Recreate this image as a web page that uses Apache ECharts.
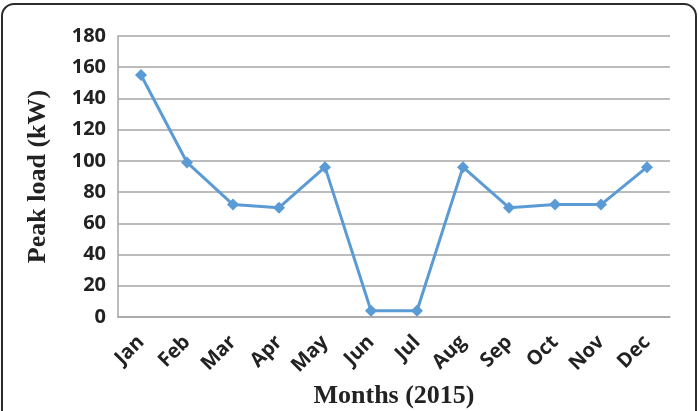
<!DOCTYPE html>
<html>
<head>
<meta charset="utf-8">
<script src="https://cdn.jsdelivr.net/npm/echarts@6/dist/echarts.min.js"></script>
<style>
  html, body { margin: 0; padding: 0; background: #fff; }
  #chart { width: 698px; height: 411px; }
</style>
</head>
<body>
<div id="chart"></div>
<script>
// peak load per month, 2015 (kW)
const months = ['Jan', 'Feb', 'Mar', 'Apr', 'May', 'Jun', 'Jul', 'Aug', 'Sep', 'Oct', 'Nov', 'Dec']
const peakLoad = [155, 99, 72, 70, 96, 4, 4, 96, 70, 72, 72, 96]

const chart = echarts.init(document.getElementById('chart'))

chart.setOption({
  animation: false,
  grid: { left: 118, right: 28, top: 36, bottom: 94, outerBoundsMode: 'none', containLabel: false },
  graphic: [
    {
      type: 'rect',
      shape: { x: 2, y: 4, width: 694, height: 450, r: 12 },
      style: { fill: 'none', stroke: '#2b2b2b', lineWidth: 2 },
      silent: true
    }
  ],
  xAxis: {
    type: 'category',
    data: months,
    name: 'Months (2015)',
    nameLocation: 'middle',
    nameGap: 66,
    nameTextStyle: {
      fontFamily: 'Liberation Serif',
      fontWeight: 'bold',
      fontSize: 26,
      color: '#222'
    },
    axisLine: { lineStyle: { color: '#a6a6a6', width: 1.5 } },
    axisTick: { show: false },
    axisLabel: {
      rotate: 45,
      margin: 22,
      fontFamily: 'Open Sans',
      fontWeight: 'bold',
      fontSize: 20,
      color: '#222'
    }
  },
  yAxis: {
    type: 'value',
    min: 0,
    max: 180,
    interval: 20,
    name: 'Peak load (kW)',
    nameLocation: 'middle',
    nameGap: 67,
    nameTextStyle: {
      fontFamily: 'Liberation Serif',
      fontWeight: 'bold',
      fontSize: 26,
      color: '#222'
    },
    axisLine: { show: true, lineStyle: { color: '#a6a6a6', width: 1.5 } },
    axisTick: { show: false },
    axisLabel: {
      margin: 12,
      fontFamily: 'Open Sans',
      fontWeight: 'bold',
      fontSize: 20,
      color: '#222'
    },
    splitLine: { lineStyle: { color: '#a6a6a6', width: 1.5 } }
  },
  series: [
    {
      type: 'line',
      data: peakLoad,
      symbol: 'diamond',
      symbolSize: 12,
      lineStyle: { color: '#5b9bd5', width: 3 },
      itemStyle: { color: '#5b9bd5' }
    }
  ]
})
</script>
</body>
</html>
